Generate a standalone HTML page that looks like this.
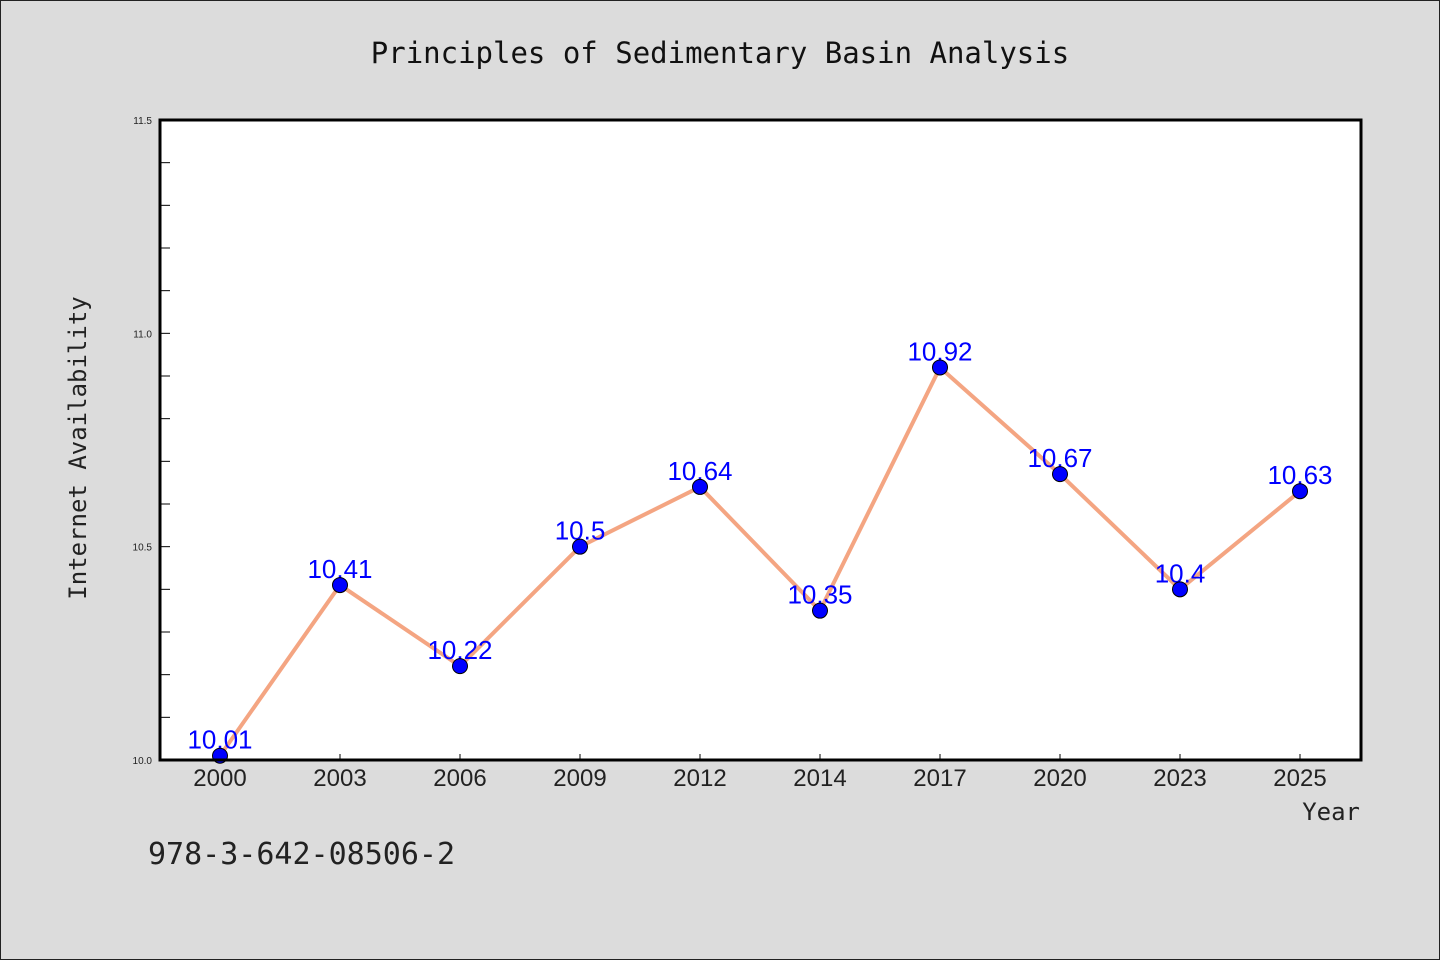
<!DOCTYPE html>
<html><head><meta charset="utf-8"><style>
body{margin:0;background:#dcdcdc;}
svg{display:block;font-family:"Liberation Sans","DejaVu Sans",sans-serif;}
</style></head><body>
<svg id="chart" width="1440" height="960" xmlns="http://www.w3.org/2000/svg">
<rect x="0.5" y="0.5" width="1439" height="959" fill="#dcdcdc" stroke="#222"/>
<text x="720" y="63" text-anchor="middle" font-size="29" font-family="'DejaVu Sans Mono','Liberation Mono',monospace" fill="#111">Principles of Sedimentary Basin Analysis</text>
<rect x="160" y="120" width="1201" height="640" fill="#fff"/>
<g id="axes"></g>
<g id="series"></g>
<rect x="160" y="120" width="1201" height="640" fill="none" stroke="#000" stroke-width="3"/>
<text x="86" y="448" text-anchor="middle" transform="rotate(-90 86 448)" font-size="24" font-family="'DejaVu Sans Mono','Liberation Mono',monospace" fill="#222">Internet Availability</text>
<text x="1360" y="820" text-anchor="end" font-size="24" font-family="'DejaVu Sans Mono','Liberation Mono',monospace" fill="#222">Year</text>
<text x="148" y="864" font-size="30" font-family="'DejaVu Sans Mono','Liberation Mono',monospace" fill="#222">978-3-642-08506-2</text>
</svg>
<script>
const categories=["2000","2003","2006","2009","2012","2014","2017","2020","2023","2025"];
const values=[10.01,10.41,10.22,10.5,10.64,10.35,10.92,10.67,10.4,10.63];
const valueLabels=["10.01","10.41","10.22","10.5","10.64","10.35","10.92","10.67","10.4","10.63"];
const yTicks=[10.0,10.5,11.0,11.5];
const yMin=10.0,yMax=11.5;
const NS="http://www.w3.org/2000/svg";
const L=160,R=1361,T=120,B=760;
const band=(R-L-1)/categories.length;
function x(i){return L+band*(i+0.5);}
function y(v){return B-(v-yMin)/(yMax-yMin)*(B-T);}
function mk(tag,attrs,parent){const e=document.createElementNS(NS,tag);for(const k in attrs)e.setAttribute(k,attrs[k]);parent.appendChild(e);return e;}
const ax=document.getElementById('axes'),sr=document.getElementById('series');
for(let v=yMin;v<=yMax+1e-9;v+=0.1){
  const t=mk('line',{x1:L,x2:L+10,y1:y(v),y2:y(v),stroke:'#000','stroke-width':1},ax);
  
  
}
yTicks.forEach(v=>{
  const t=mk('text',{x:L-8,y:y(v)+4,'text-anchor':'end','font-size':10,fill:'#222'},ax);
  t.textContent=v.toFixed(1);
  
  
});
categories.forEach((c,i)=>{
  const tk=mk('line',{x1:x(i),x2:x(i),y1:B,y2:B-6,stroke:'#000','stroke-width':1},ax);
  
  
  const t=mk('text',{x:x(i),y:B+26,'text-anchor':'middle','font-size':24,fill:'#222'},ax);
  t.textContent=c;
  
  
});
const line=mk('polyline',{points:values.map((v,i)=>x(i)+','+y(v)).join(' '),fill:'none',stroke:'#f4a582','stroke-width':4,'stroke-linejoin':'round'},sr);


values.forEach((v,i)=>{
  const t=mk('text',{x:x(i),y:y(v)-7,'text-anchor':'middle','font-size':26,fill:'#0000ff'},sr);
  t.textContent=valueLabels[i];
  
  
});
values.forEach((v,i)=>{
  const c=mk('circle',{cx:x(i),cy:y(v),r:7.5,fill:'#0000ff',stroke:'#000','stroke-width':1},sr);
  
  
});
</script>
</body></html>
